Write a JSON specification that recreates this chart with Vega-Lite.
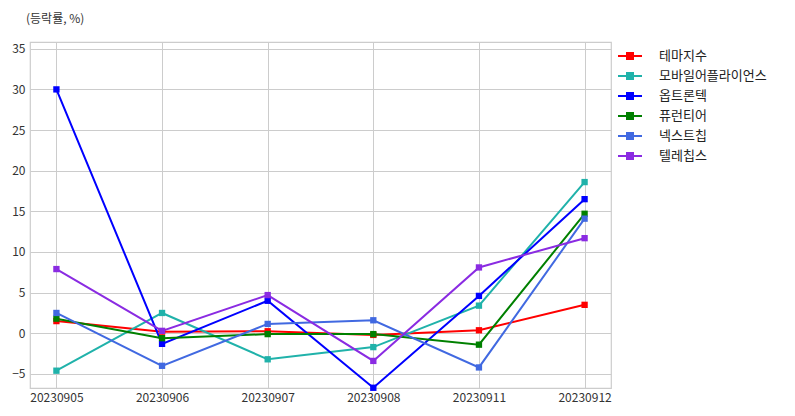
{
  "$schema": "https://vega.github.io/schema/vega-lite/v6.json",
  "width": 581,
  "height": 346,
  "autosize": {"type": "none"},
  "padding": {"left": 30, "top": 42, "right": 184, "bottom": 28},
  "background": "white",
  "title": {"text": "(등락률, %)", "anchor": "start", "frame": "group", "dx": -4, "offset": 16, "fontSize": 12, "fontWeight": "normal", "color": "#333333", "font": "Noto Sans CJK KR"},
  "data": {"values": [
    {"date": "20230905", "name": "테마지수", "value": 1.5},
    {"date": "20230906", "name": "테마지수", "value": 0.2},
    {"date": "20230907", "name": "테마지수", "value": 0.25},
    {"date": "20230908", "name": "테마지수", "value": -0.2},
    {"date": "20230911", "name": "테마지수", "value": 0.37},
    {"date": "20230912", "name": "테마지수", "value": 3.5},
    {"date": "20230905", "name": "모바일어플라이언스", "value": -4.6},
    {"date": "20230906", "name": "모바일어플라이언스", "value": 2.5},
    {"date": "20230907", "name": "모바일어플라이언스", "value": -3.2},
    {"date": "20230908", "name": "모바일어플라이언스", "value": -1.7},
    {"date": "20230911", "name": "모바일어플라이언스", "value": 3.4},
    {"date": "20230912", "name": "모바일어플라이언스", "value": 18.6},
    {"date": "20230905", "name": "옵트론텍", "value": 30.0},
    {"date": "20230906", "name": "옵트론텍", "value": -1.3},
    {"date": "20230907", "name": "옵트론텍", "value": 4.0},
    {"date": "20230908", "name": "옵트론텍", "value": -6.7},
    {"date": "20230911", "name": "옵트론텍", "value": 4.6},
    {"date": "20230912", "name": "옵트론텍", "value": 16.5},
    {"date": "20230905", "name": "퓨런티어", "value": 1.8},
    {"date": "20230906", "name": "퓨런티어", "value": -0.6},
    {"date": "20230907", "name": "퓨런티어", "value": -0.1},
    {"date": "20230908", "name": "퓨런티어", "value": -0.1},
    {"date": "20230911", "name": "퓨런티어", "value": -1.4},
    {"date": "20230912", "name": "퓨런티어", "value": 14.7},
    {"date": "20230905", "name": "넥스트칩", "value": 2.5},
    {"date": "20230906", "name": "넥스트칩", "value": -4.0},
    {"date": "20230907", "name": "넥스트칩", "value": 1.15},
    {"date": "20230908", "name": "넥스트칩", "value": 1.6},
    {"date": "20230911", "name": "넥스트칩", "value": -4.2},
    {"date": "20230912", "name": "넥스트칩", "value": 14.1},
    {"date": "20230905", "name": "텔레칩스", "value": 7.9},
    {"date": "20230906", "name": "텔레칩스", "value": 0.3},
    {"date": "20230907", "name": "텔레칩스", "value": 4.7},
    {"date": "20230908", "name": "텔레칩스", "value": -3.4},
    {"date": "20230911", "name": "텔레칩스", "value": 8.1},
    {"date": "20230912", "name": "텔레칩스", "value": 11.7}
  ]},
  "mark": {"type": "line", "strokeWidth": 2, "point": {"shape": "square", "filled": true, "size": 40, "opacity": 1}},
  "encoding": {
    "x": {"field": "date", "type": "ordinal", "sort": null,
      "scale": {"type": "point", "padding": 0.25},
      "axis": {"title": null, "labelAngle": 0, "grid": true, "ticks": false, "domain": false, "labelPadding": 4}},
    "y": {"field": "value", "type": "quantitative",
      "scale": {"domain": [-6.73, 35.83], "nice": false, "zero": false},
      "axis": {"title": null, "values": [-5, 0, 5, 10, 15, 20, 25, 30, 35], "ticks": false, "domain": false, "labelPadding": 5}},
    "color": {"field": "name", "type": "nominal",
      "scale": {"domain": ["테마지수", "모바일어플라이언스", "옵트론텍", "퓨런티어", "넥스트칩", "텔레칩스"],
                "range": ["#ff0000", "#20b2aa", "#0000ff", "#008000", "#4169e1", "#8a2be2"]},
      "legend": {"title": null, "orient": "none", "legendX": 587, "legendY": 1,
        "symbolType": "M-1,0H1M-0.25,-0.25H0.25V0.25H-0.25Z", "symbolSize": 576, "symbolStrokeWidth": 2,
        "labelFontSize": 13, "labelFont": "Noto Sans CJK KR", "labelColor": "#222222", "labelOffset": 16, "rowPadding": -2.6,
        "encode": {"symbols": {"update": {"fill": {"scale": "color", "field": "value"}, "opacity": {"value": 1}}}}}}
  },
  "config": {
    "view": {"stroke": "#cccccc", "strokeWidth": 1.2},
    "axis": {"gridColor": "#cccccc", "gridWidth": 1, "labelFont": "Noto Sans CJK KR", "labelFontSize": 12, "labelColor": "#333333"}
  }
}
